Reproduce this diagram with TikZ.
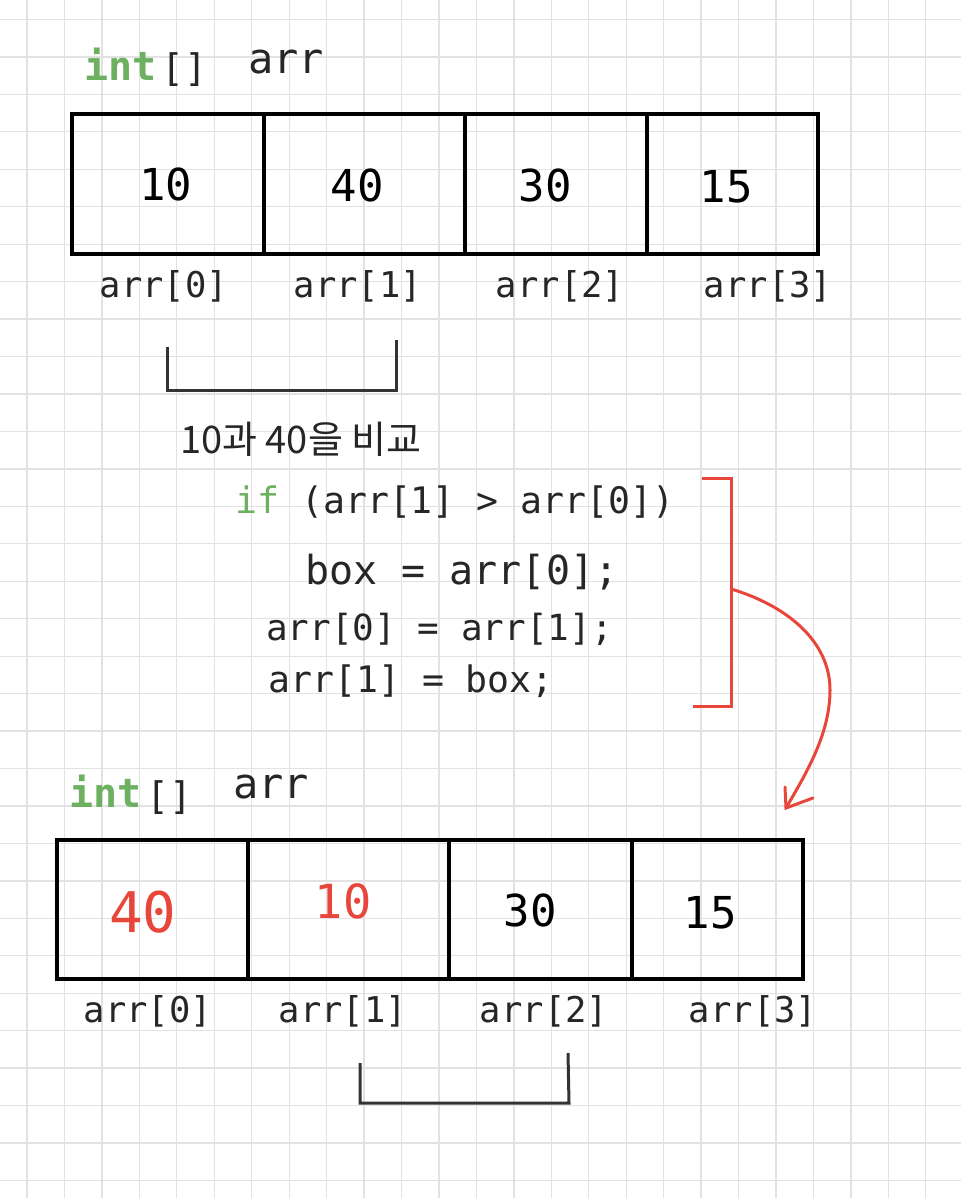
\documentclass[tikz,border=0pt]{standalone}
\usepackage{fontspec}
\setmonofont{DejaVu Sans Mono}
\newfontfamily\krfont{Noto Sans CJK KR}
\definecolor{gridgray}{RGB}{226,226,226}
\definecolor{codegreen}{RGB}{108,176,96}
\definecolor{markred}{RGB}{232,70,58}
\definecolor{brackgray}{RGB}{51,51,51}
\tikzset{
  gridline/.style={draw=gridgray, line width=1.3pt},
  cellbox/.style={draw=black, line width=3.5pt, line join=miter},
  bracketline/.style={draw=brackgray, line width=3pt, line join=miter},
  redline/.style={draw=markred, line width=3pt, line join=miter},
  txt/.style={inner sep=0pt, anchor=base, text=black},
  lbl/.style={txt, font=\ttfamily\fontsize{35.5}{40}\selectfont, text=black!85},
  num/.style={txt, font=\ttfamily\fontsize{44}{48}\selectfont},
  code/.style={inner sep=0pt, anchor=base west, text=black!85},
  kw/.style={inner sep=0pt, anchor=base west, text=codegreen, font=\ttfamily\bfseries\fontsize{40}{44}\selectfont},
}
\begin{document}
\begin{tikzpicture}[x=1pt,y=-1pt]
\useasboundingbox (0,0) rectangle (961,1198);
\fill[white] (0,0) rectangle (961,1198);
% grid
\foreach \k in {0,...,24} \draw[gridline] ({27+37.45*\k},0) -- ({27+37.45*\k},1198);
\foreach \k in {0,...,31} \draw[gridline] (0,{19.5+37.45*\k}) -- (961,{19.5+37.45*\k});

% ---- top array ----
\node[kw] (t1int) at (84,81) {int};
\node[code, font=\ttfamily\fontsize{38}{40}\selectfont] (t1br) at (161,82) {[]};
\node[code, font=\ttfamily\fontsize{42}{44}\selectfont] (t1arr) at (248,74) {arr};

\draw[cellbox] (72,114) rectangle (818,254);
\draw[cellbox] (264,114) -- (264,254);
\draw[cellbox] (465,114) -- (465,254);
\draw[cellbox] (647,114) -- (647,254);

\node[num] (a0) at (166,201) {10};
\node[num] (a1) at (357,202) {40};
\node[num] (a2) at (545,202) {30};
\node[num] (a3) at (726,203) {15};

\node[lbl] (l0) at (164,297) {arr[0]};
\node[lbl] (l1) at (358,297) {arr[1]};
\node[lbl] (l2) at (560,297) {arr[2]};
\node[lbl] (l3) at (768,297) {arr[3]};

% bracket 1
\draw[bracketline] (167,347) -- (167,390) -- (396,390) -- (396,340);

\node[txt, anchor=base west, font=\krfont\fontsize{38}{42}\selectfont, text=black!85] (cmp) at (180,453) {10과 40을 비교};

% code
\node[code, font=\ttfamily\fontsize{36.5}{40}\selectfont] (c1) at (235,513) {\textcolor{codegreen}{if} (arr[1] > arr[0])};
\node[code, font=\ttfamily\fontsize{40}{44}\selectfont] (c2) at (305,584) {box = arr[0];};
\node[code, font=\ttfamily\fontsize{36}{40}\selectfont] (c3) at (266,640) {arr[0] = arr[1];};
\node[code, font=\ttfamily\fontsize{36.5}{40}\selectfont] (c4) at (268,692) {arr[1] = box;};

% red bracket and arrow
\coordinate (rb) at (731,589);
\coordinate (tip) at (786,808);
\draw[redline] (702,478) -- (731,478) -- (731,706) -- (693,706);
\draw[redline, line cap=round] (rb) .. controls (785,605) and (830,640) .. (830,690)
   .. controls (830,735) and (805,775) .. (tip);
\draw[redline, line cap=round] (785,787) -- (tip) -- (813,798);

% ---- bottom array ----
\node[kw] (t2int) at (69,807) {int};
\node[code, font=\ttfamily\fontsize{38}{40}\selectfont] (t2br) at (146,809) {[]};
\node[code, font=\ttfamily\fontsize{42}{44}\selectfont] (t2arr) at (233,798) {arr};

\draw[cellbox] (57,840) rectangle (803,979);
\draw[cellbox] (248,840) -- (248,979);
\draw[cellbox] (449,840) -- (449,979);
\draw[cellbox] (632,840) -- (632,979);

\node[num, text=markred, font=\ttfamily\fontsize{56}{60}\selectfont] (b0) at (143,932) {40};
\node[num, text=markred, font=\ttfamily\fontsize{47}{50}\selectfont] (b1) at (343,918) {10};
\node[num] (b2) at (530,926) {30};
\node[num] (b3) at (710,928) {15};

\node[lbl] (m0) at (148,1022) {arr[0]};
\node[lbl] (m1) at (343,1022) {arr[1]};
\node[lbl] (m2) at (544,1022) {arr[2]};
\node[lbl] (m3) at (753,1022) {arr[3]};

% bracket 2
\draw[bracketline] (360,1063) -- (360,1103) -- (569,1103) -- (568,1053);
\end{tikzpicture}
\end{document}
